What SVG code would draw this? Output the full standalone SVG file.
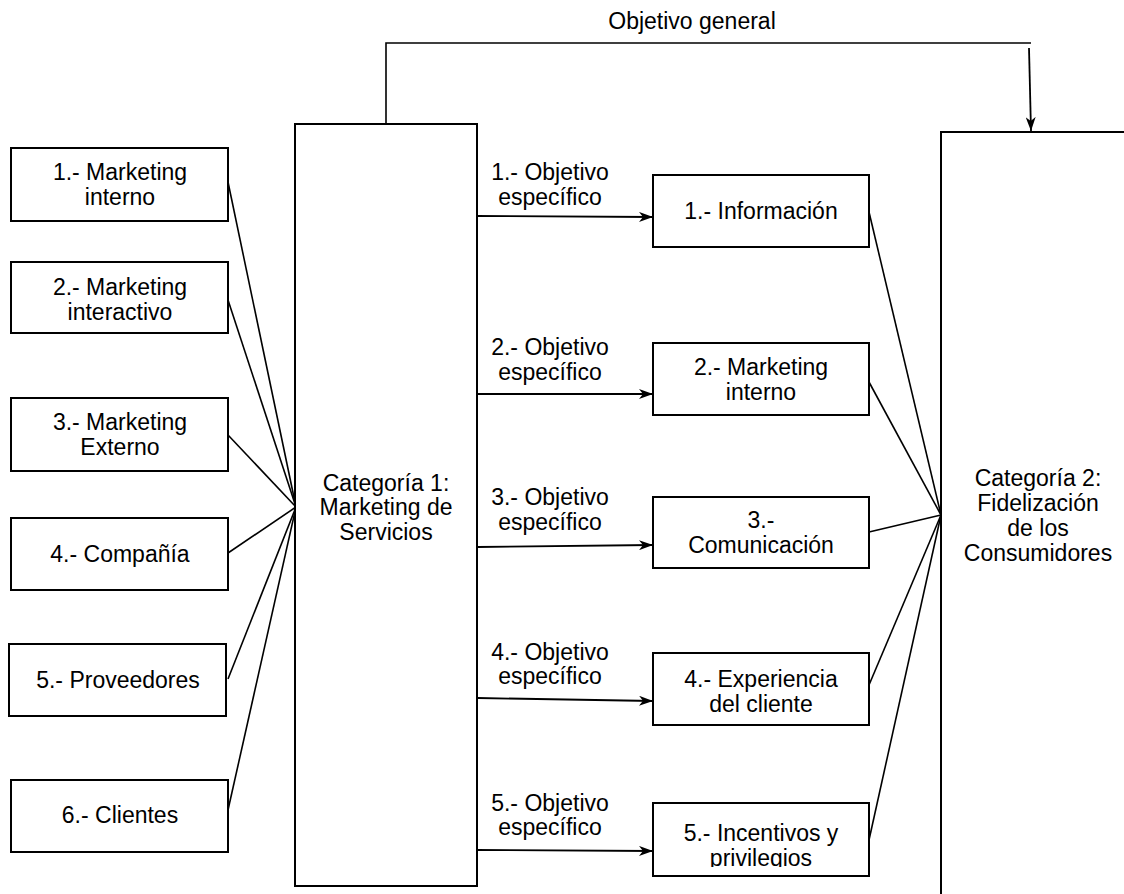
<svg xmlns="http://www.w3.org/2000/svg" width="1124" height="894" viewBox="0 0 1124 894">
  <style>
    .box { fill: #ffffff; stroke: #000000; stroke-width: 2; }
    .txt { font-family: "Liberation Sans", Arial, sans-serif; font-size: 23px; fill: #000000; text-anchor: middle; }
    .link { fill: none; stroke: #000000; stroke-width: 1.6; }
    .arrow { fill: none; stroke: #000000; stroke-width: 1.8; marker-end: url(#head); }
  </style>
  <defs>
    <marker id="head" viewBox="0 0 14 10" refX="14" refY="5" markerWidth="14" markerHeight="10" markerUnits="userSpaceOnUse" orient="auto">
      <path d="M0,0 L14,5 L0,10 L4,5 Z" fill="#000000"/>
    </marker>
    <clipPath id="clip-m5">
      <rect x="653" y="803" width="217" height="64"/>
    </clipPath>
  </defs>

  <rect width="1124" height="894" fill="#ffffff"/>

  <!-- connectors -->
  <g id="connectors">
    <!-- general objective: Categoría 1 to Categoría 2 -->
    <polyline class="link" points="386,124 386,43 1031,43"/>
    <line class="arrow" x1="1029" y1="48" x2="1031" y2="131"/>
    <text class="txt" x="692" y="29">Objetivo general</text>

    <!-- left items converge on Categoría 1 -->
    <line class="link" x1="228" y1="182" x2="296" y2="507"/>
    <line class="link" x1="228" y1="300" x2="296" y2="507"/>
    <line class="link" x1="228" y1="435" x2="296" y2="507"/>
    <line class="link" x1="228" y1="553" x2="296" y2="507"/>
    <line class="link" x1="228" y1="679" x2="296" y2="507"/>
    <line class="link" x1="228" y1="810" x2="296" y2="507"/>

    <!-- specific objectives -->
    <line class="arrow" x1="478" y1="216" x2="653" y2="217"/>
    <line class="arrow" x1="478" y1="394" x2="653" y2="394"/>
    <line class="arrow" x1="478" y1="547" x2="653" y2="545"/>
    <line class="arrow" x1="478" y1="698" x2="653" y2="701"/>
    <line class="arrow" x1="478" y1="850" x2="653" y2="851"/>

    <text class="txt" x="550" y="180">1.- Objetivo</text>
    <text class="txt" x="550" y="205">específico</text>
    <text class="txt" x="550" y="355">2.- Objetivo</text>
    <text class="txt" x="550" y="380">específico</text>
    <text class="txt" x="550" y="505">3.- Objetivo</text>
    <text class="txt" x="550" y="530">específico</text>
    <text class="txt" x="550" y="660">4.- Objetivo</text>
    <text class="txt" x="550" y="684">específico</text>
    <text class="txt" x="550" y="811">5.- Objetivo</text>
    <text class="txt" x="550" y="835">específico</text>

    <!-- objectives converge on Categoría 2 -->
    <line class="link" x1="869" y1="212" x2="941" y2="515"/>
    <line class="link" x1="869" y1="382" x2="941" y2="515"/>
    <line class="link" x1="869" y1="532" x2="941" y2="515"/>
    <line class="link" x1="869" y1="685" x2="941" y2="515"/>
    <line class="link" x1="869" y1="840" x2="941" y2="515"/>
  </g>

  <!-- left column -->
  <g id="l1">
    <rect class="box" x="11" y="148" width="217" height="73"/>
    <text class="txt" x="120" y="180">1.- Marketing</text>
    <text class="txt" x="120" y="205">interno</text>
  </g>
  <g id="l2">
    <rect class="box" x="11" y="262" width="217" height="71"/>
    <text class="txt" x="120" y="295">2.- Marketing</text>
    <text class="txt" x="120" y="320">interactivo</text>
  </g>
  <g id="l3">
    <rect class="box" x="11" y="398" width="217" height="73"/>
    <text class="txt" x="120" y="430">3.- Marketing</text>
    <text class="txt" x="120" y="455">Externo</text>
  </g>
  <g id="l4">
    <rect class="box" x="11" y="518" width="217" height="72"/>
    <text class="txt" x="120" y="562">4.- Compañía</text>
  </g>
  <g id="l5">
    <rect class="box" x="9" y="644" width="217" height="72"/>
    <text class="txt" x="118" y="688">5.- Proveedores</text>
  </g>
  <g id="l6">
    <rect class="box" x="11" y="780" width="217" height="72"/>
    <text class="txt" x="120" y="823">6.- Clientes</text>
  </g>

  <!-- Categoría 1 -->
  <g id="cat1">
    <rect class="box" x="295" y="124" width="182" height="762"/>
    <text class="txt" x="386" y="491">Categoría 1:</text>
    <text class="txt" x="386" y="515">Marketing de</text>
    <text class="txt" x="386" y="540">Servicios</text>
  </g>

  <!-- middle column -->
  <g id="m1">
    <rect class="box" x="653" y="175" width="216" height="72"/>
    <text class="txt" x="761" y="219">1.- Información</text>
  </g>
  <g id="m2">
    <rect class="box" x="653" y="343" width="216" height="72"/>
    <text class="txt" x="761" y="375">2.- Marketing</text>
    <text class="txt" x="761" y="400">interno</text>
  </g>
  <g id="m3">
    <rect class="box" x="653" y="497" width="216" height="71"/>
    <text class="txt" x="761" y="528">3.-</text>
    <text class="txt" x="761" y="553">Comunicación</text>
  </g>
  <g id="m4">
    <rect class="box" x="653" y="653" width="216" height="72"/>
    <text class="txt" x="761" y="687">4.- Experiencia</text>
    <text class="txt" x="761" y="712">del cliente</text>
  </g>
  <g id="m5">
    <rect class="box" x="653" y="803" width="216" height="73"/>
    <g clip-path="url(#clip-m5)">
      <text class="txt" x="761" y="841">5.- Incentivos y</text>
      <text class="txt" x="761" y="866">privilegios</text>
    </g>
  </g>

  <!-- Categoría 2 -->
  <g id="cat2">
    <rect class="box" x="941" y="132" width="200" height="780"/>
    <text class="txt" x="1038" y="486">Categoría 2:</text>
    <text class="txt" x="1038" y="511">Fidelización</text>
    <text class="txt" x="1038" y="536">de los</text>
    <text class="txt" x="1038" y="561">Consumidores</text>
  </g>
</svg>
